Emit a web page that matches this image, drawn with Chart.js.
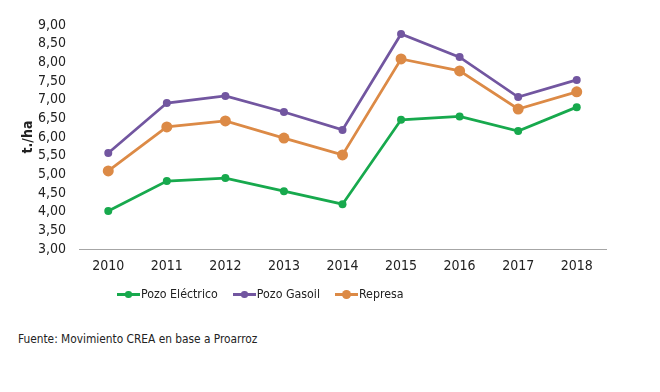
<!DOCTYPE html>
<html>
<head>
<meta charset="utf-8">
<script src="https://cdn.jsdelivr.net/npm/chart.js@4"></script>
<style>
  body { margin: 0; background: #fff; font-family: "DejaVu Sans Condensed", "DejaVu Sans", sans-serif; }
  #wrap { position: relative; width: 660px; height: 392px; }
  #chart { position: absolute; left: 0; top: 0; }
  #legend { position: absolute; left: 117px; top: 285px; display: flex; font-size: 12.3px; color: #222; }
  .item { display: flex; align-items: center; margin-right: 15px; }
  .mark { position: relative; width: 23px; height: 18px; margin-right: 1px; }
  .mark .ln { position: absolute; left: 0; right: 0; top: 8px; height: 3px; }
  .mark .dt { position: absolute; border-radius: 50%; }
  #note { position: absolute; left: 18px; top: 332px; font-size: 11.8px; color: #222; }
</style>
</head>
<body>
<div id="wrap">
  <canvas id="chart" width="660" height="300"></canvas>
  <div id="legend"></div>
  <div id="note">Fuente: Movimiento CREA en base a Proarroz</div>
</div>
<script>
/* datos */
const years = ["2010", "2011", "2012", "2013", "2014", "2015", "2016", "2017", "2018"];
const pozoElectrico = [4.02, 4.82, 4.90, 4.55, 4.20, 6.46, 6.55, 6.16, 6.80];
const pozoGasoil    = [5.57, 6.91, 7.10, 6.67, 6.19, 8.76, 8.14, 7.07, 7.53];
const represa       = [5.09, 6.27, 6.43, 5.97, 5.52, 8.09, 7.77, 6.75, 7.21];

const verde = "#17a94d";
const violeta = "#7256a0";
const naranja = "#dc8a46";

const series = [
  { label: "Pozo Eléctrico", data: pozoElectrico, color: verde, r: 4 },
  { label: "Pozo Gasoil", data: pozoGasoil, color: violeta, r: 4 },
  { label: "Represa", data: represa, color: naranja, r: 5.5 }
];

/* leyenda en html */
const legend = document.getElementById("legend");
series.forEach(s => {
  const d = s.r * 1.6;
  legend.innerHTML +=
    `<div class="item"><span class="mark"><span class="ln" style="background:${s.color}"></span>` +
    `<span class="dt" style="background:${s.color};width:${d}px;height:${d}px;left:${11.5 - d / 2}px;top:${9.5 - d / 2}px"></span></span>` +
    `<span>${s.label}</span></div>`;
});

const font = { family: "'DejaVu Sans Condensed', 'DejaVu Sans', sans-serif", size: 14 };

new Chart(document.getElementById("chart"), {
  type: "line",
  data: {
    labels: years,
    datasets: series.map(s => ({
      label: s.label,
      data: s.data,
      borderColor: s.color,
      backgroundColor: s.color,
      borderWidth: 2.75,
      pointRadius: s.r,
      pointHoverRadius: s.r,
      pointBorderWidth: 0,
      tension: 0
    }))
  },
  options: {
    responsive: false,
    animation: false,
    layout: { padding: { left: 0, top: 25, right: 54, bottom: 0 } },
    plugins: { legend: { display: false }, tooltip: { enabled: false } },
    scales: {
      x: {
        offset: true,
        grid: { display: false, drawTicks: false },
        border: { display: true, color: "#a6a6a6", width: 1 },
        ticks: { color: "#222", font, padding: 9 },
        afterFit: sc => { sc.height = 51; }
      },
      y: {
        min: 3,
        max: 9,
        grid: { display: false, drawTicks: false },
        border: { display: false },
        ticks: {
          stepSize: 0.5,
          autoSkip: false,
          color: "#222",
          font,
          padding: 13,
          callback: v => v.toFixed(2).replace(".", ",")
        },
        title: {
          display: true,
          text: "t./ha",
          color: "#222",
          font: { ...font, weight: "bold" },
          padding: { top: 20, bottom: 0 }
        },
        afterFit: sc => { sc.width = 79; }
      }
    }
  }
});
</script>
</body>
</html>
